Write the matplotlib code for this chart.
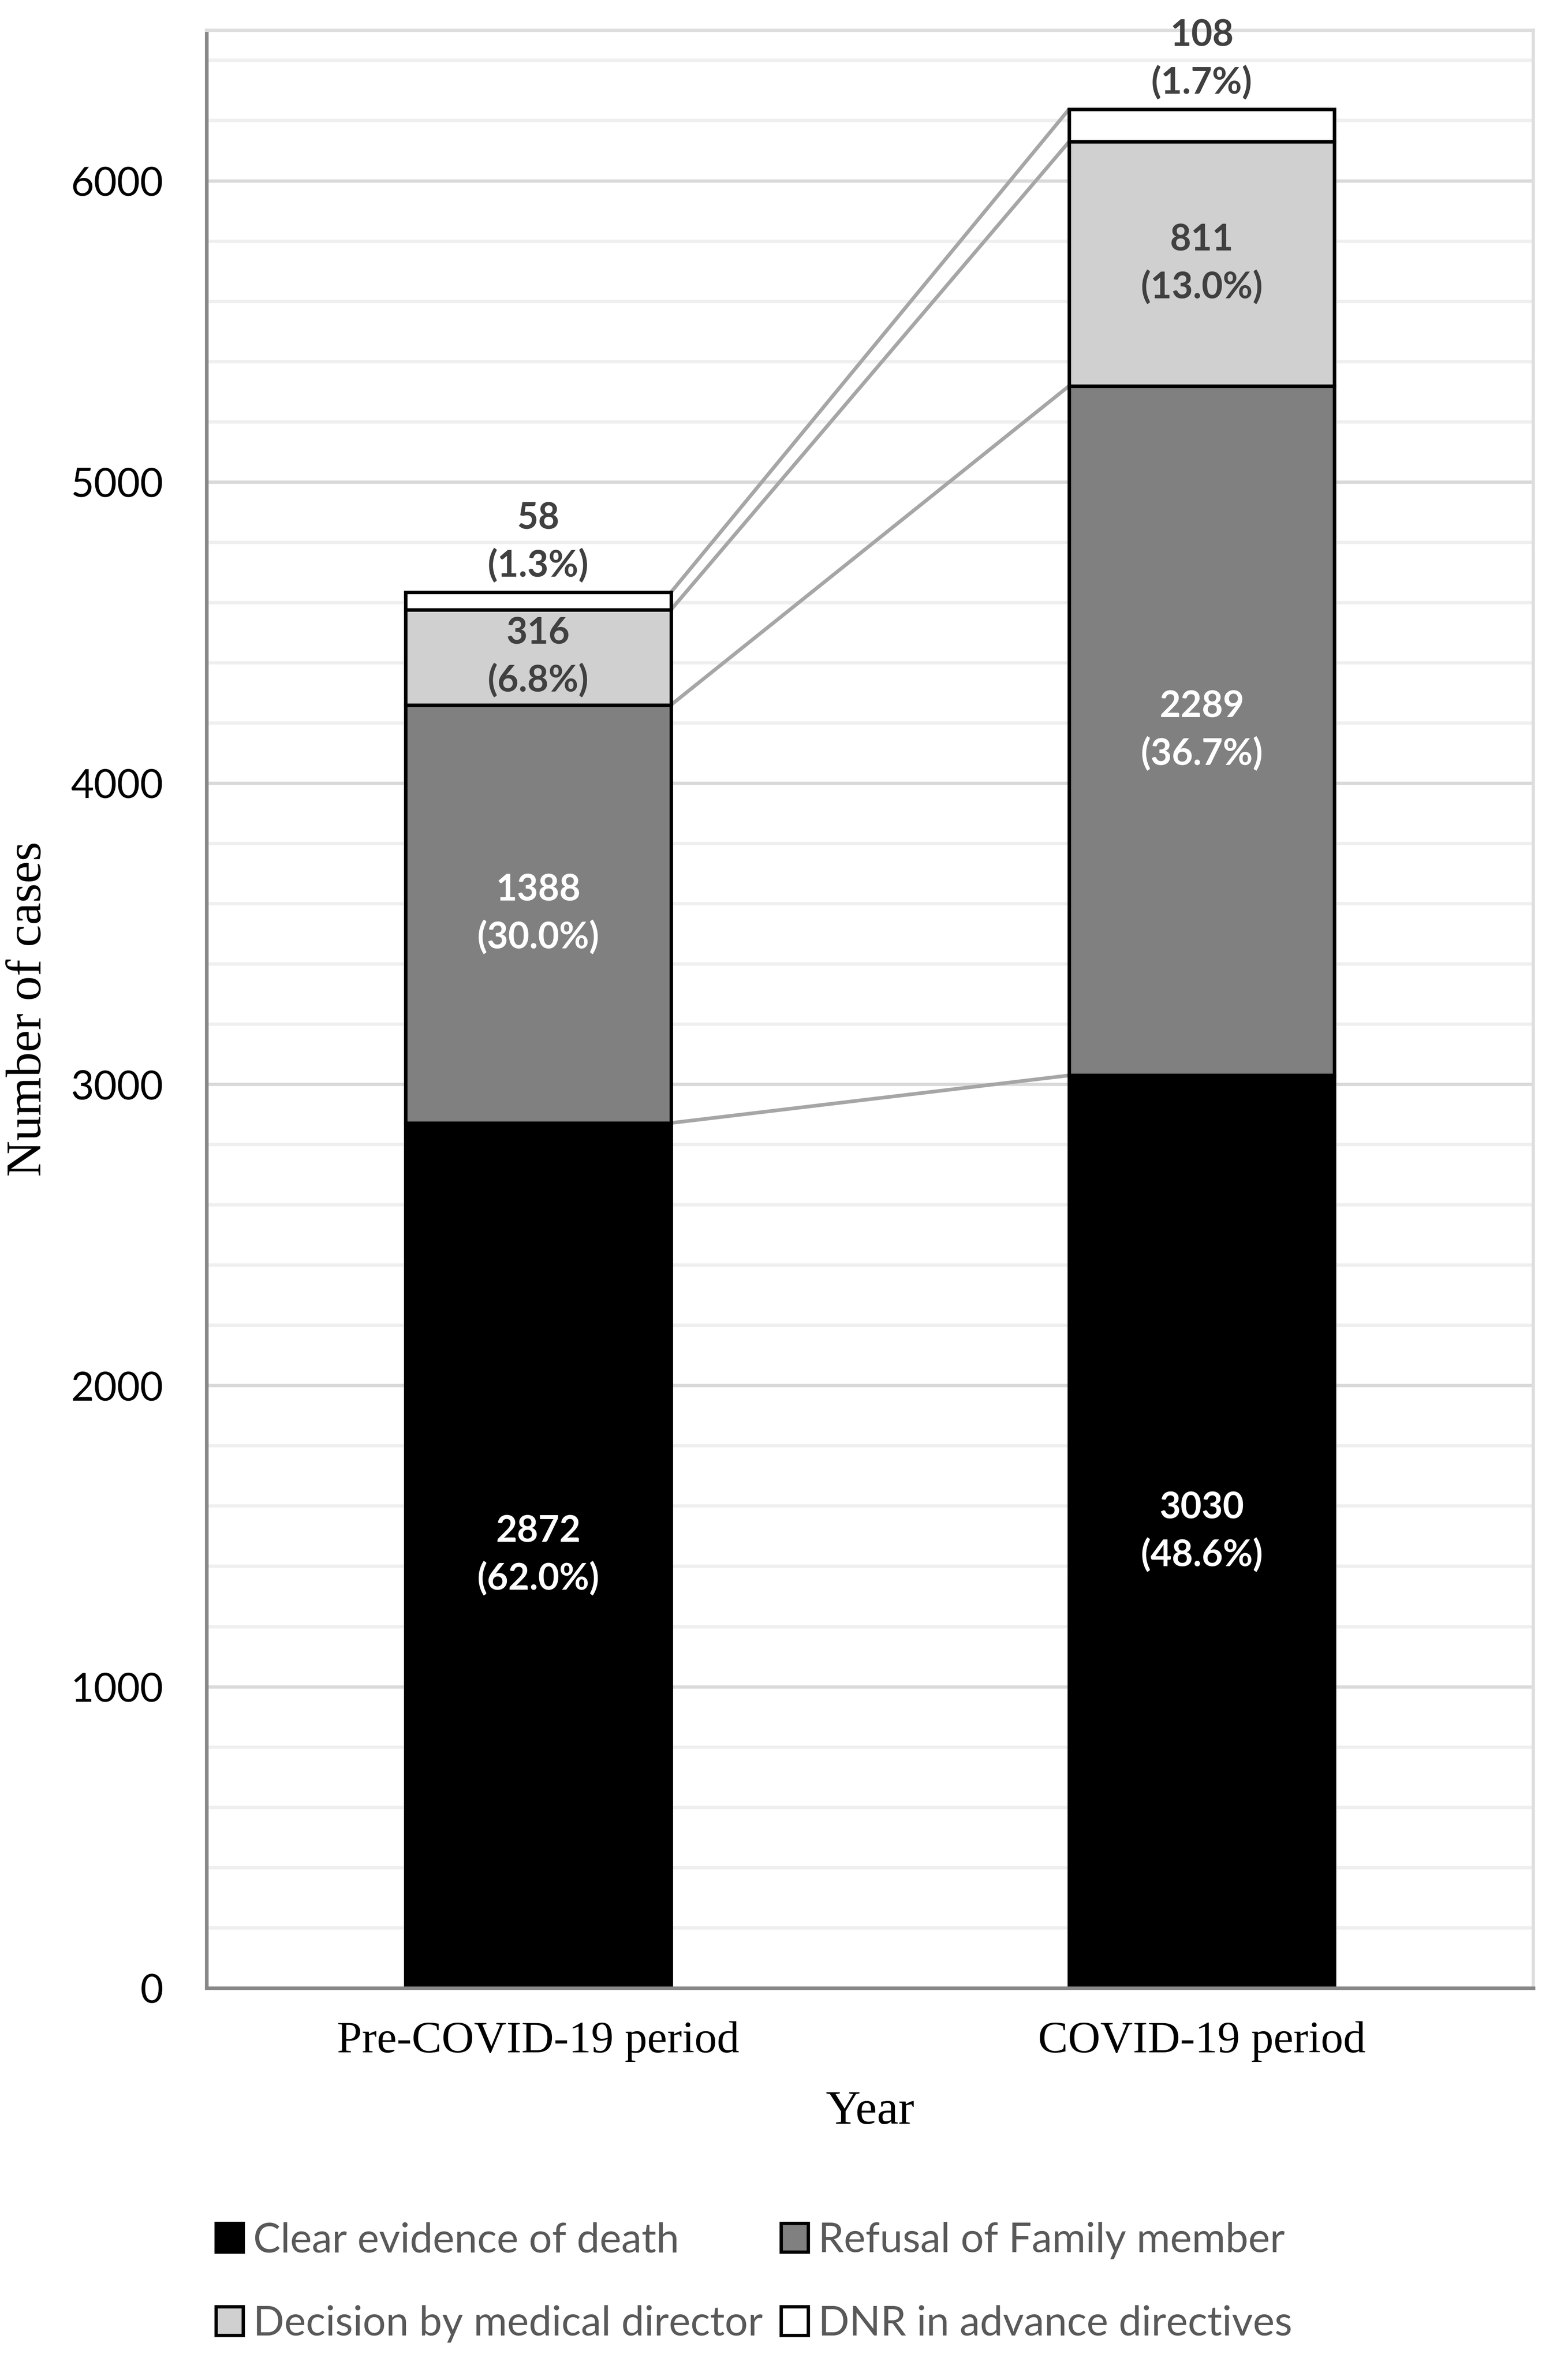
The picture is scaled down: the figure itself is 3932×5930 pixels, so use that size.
import numpy as np
import matplotlib
matplotlib.use("Agg")
import matplotlib.pyplot as plt
from matplotlib.patches import Patch
from matplotlib.ticker import MultipleLocator

# data
periods = ["Pre-COVID-19 period", "COVID-19 period"]
categories = ["Clear evidence of death", "Refusal of Family member",
              "Decision by medical director", "DNR in advance directives"]
clear_evidence = [2872, 3030]
refusal_family = [1388, 2289]
medical_director = [316, 811]
dnr_directives = [58, 108]
pct_clear = ["62.0%", "48.6%"]
pct_refusal = ["30.0%", "36.7%"]
pct_director = ["6.8%", "13.0%"]
pct_dnr = ["1.3%", "1.7%"]

series = [clear_evidence, refusal_family, medical_director, dnr_directives]
pcts = [pct_clear, pct_refusal, pct_director, pct_dnr]
fills = ["#000000", "#808080", "#d0d0d0", "#ffffff"]
label_colors = ["white", "white", "#404040", "#404040"]

sans = ["Lato", "DejaVu Sans"]
serif = ["Liberation Serif", "DejaVu Serif"]

fig = plt.figure(figsize=(3932 / 300, 5930 / 300), dpi=300)
ax = fig.add_axes([0.1317, 0.1594, 0.8463, 0.8278])

x = np.arange(len(periods))
width = 0.40
bottoms = np.zeros(len(periods))
tops = []
for vals, pc, fc, lc in zip(series, pcts, fills, label_colors):
    vals = np.array(vals, dtype=float)
    ax.bar(x, vals, width, bottom=bottoms, color=fc, edgecolor="black",
           linewidth=2.1, zorder=2)
    for i in range(len(x)):
        txt = f"{int(vals[i])}\n({pc[i]})"
        if fc == "#ffffff":
            # small top segment: label sits above the bar
            ax.annotate(txt, (x[i], bottoms[i] + vals[i]), xytext=(0, 30),
                        textcoords="offset points", ha="center", va="center",
                        fontsize=22, fontweight="bold", color=lc,
                        family=sans, linespacing=1.45, zorder=5)
        else:
            ax.text(x[i], bottoms[i] + vals[i] / 2, txt, ha="center",
                    va="center", fontsize=22, fontweight="bold", color=lc,
                    family=sans, linespacing=1.45, zorder=5)
    bottoms = bottoms + vals
    tops.append(bottoms.copy())

# series lines between the stacked segment tops
for t in tops:
    ax.plot([x[0] + width / 2, x[1] - width / 2], [t[0], t[1]],
            color="#a6a6a6", lw=2.2, zorder=1.5, solid_capstyle="butt")

ax.set_xlim(-0.5, 1.5)
ax.set_ylim(0, 6500)
ax.yaxis.set_major_locator(MultipleLocator(1000))
ax.yaxis.set_minor_locator(MultipleLocator(200))
ax.grid(axis="y", which="major", color="#d9d9d9", lw=2.0, zorder=0)
ax.grid(axis="y", which="minor", color="#efefef", lw=2.0, zorder=0)
ax.set_axisbelow(True)

ax.set_xticks(x)
ax.set_xticklabels(periods, fontsize=27, family=serif)
ax.tick_params(axis="x", length=0, pad=20)
ax.tick_params(axis="y", which="both", length=0, pad=26, labelsize=24)
for lab in ax.get_yticklabels():
    lab.set_family(sans)

for s in ["left", "bottom"]:
    ax.spines[s].set_color("#878787")
    ax.spines[s].set_linewidth(2.2)
for s in ["top", "right"]:
    ax.spines[s].set_color("#dedede")
    ax.spines[s].set_linewidth(2.0)

ax.set_xlabel("Year", fontsize=29, family=serif, labelpad=17)
ax.set_ylabel("Number of cases", fontsize=30, family=serif)
ax.yaxis.set_label_coords(-0.117, 0.5)

handles = [Patch(facecolor=fc, edgecolor="black", linewidth=2.0) for fc in fills]
order = [0, 2, 1, 3]
leg = fig.legend([handles[i] for i in order], [categories[i] for i in order],
                 ncol=2, loc="center", bbox_to_anchor=(0.481, 0.035),
                 frameon=False, prop={"family": sans, "size": 24.6},
                 handlelength=0.66, handleheight=0.7, handletextpad=0.25,
                 columnspacing=0.45, labelspacing=1.12)
for t in leg.get_texts():
    t.set_color("#595959")

fig.savefig("out.png", dpi=300, facecolor="white")
